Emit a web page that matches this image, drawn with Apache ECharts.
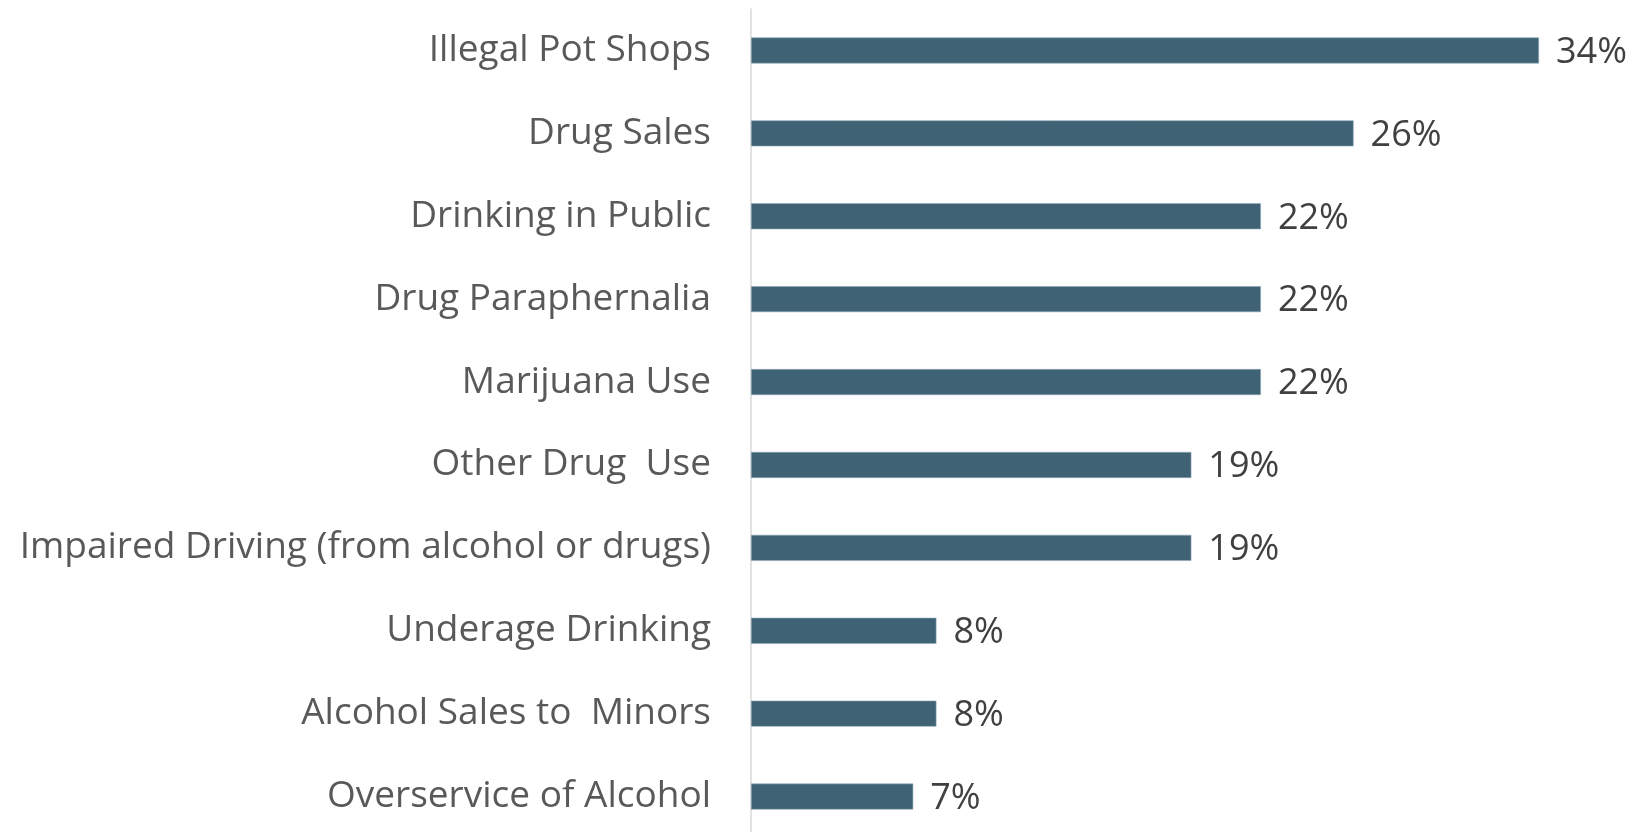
<!DOCTYPE html>
<html><head><meta charset="utf-8">
<script src="https://cdn.jsdelivr.net/npm/echarts@6/dist/echarts.min.js"></script>
<style>html,body{margin:0;padding:0;background:#fff;overflow:hidden}#c{width:1643px;height:840px}</style>
</head><body><div id="c"></div>
<script>
const categories = ["Illegal Pot Shops","Drug Sales","Drinking in Public","Drug Paraphernalia","Marijuana Use","Other Drug  Use","Impaired Driving (from alcohol or drugs)","Underage Drinking","Alcohol Sales to  Minors","Overservice of Alcohol"];
const values = [34,26,22,22,22,19,19,8,8,7];
const chart = echarts.init(document.getElementById('c'));
chart.setOption({
  animation:false,
  grid:{left:751,width:788,top:9,height:829,containLabel:false},
  xAxis:{type:'value',min:0,max:34,show:false},
  yAxis:{type:'category',inverse:true,data:categories,
    axisLine:{show:true,lineStyle:{color:'#D9D9D9',width:1.5}},
    axisTick:{show:false},
    axisLabel:{margin:40,color:'#595959',fontFamily:'Open Sans',fontSize:37}},
  series:[{type:'bar',data:values,barWidth:26,
    itemStyle:{color:'#3F6275',borderColor:'#8FA9B8',borderWidth:0.6},
    label:{show:true,position:'right',distance:17,offset:[0,2],formatter:'{c}%',color:'#404040',fontFamily:'Open Sans',fontSize:36}}]
});
</script></body></html>
